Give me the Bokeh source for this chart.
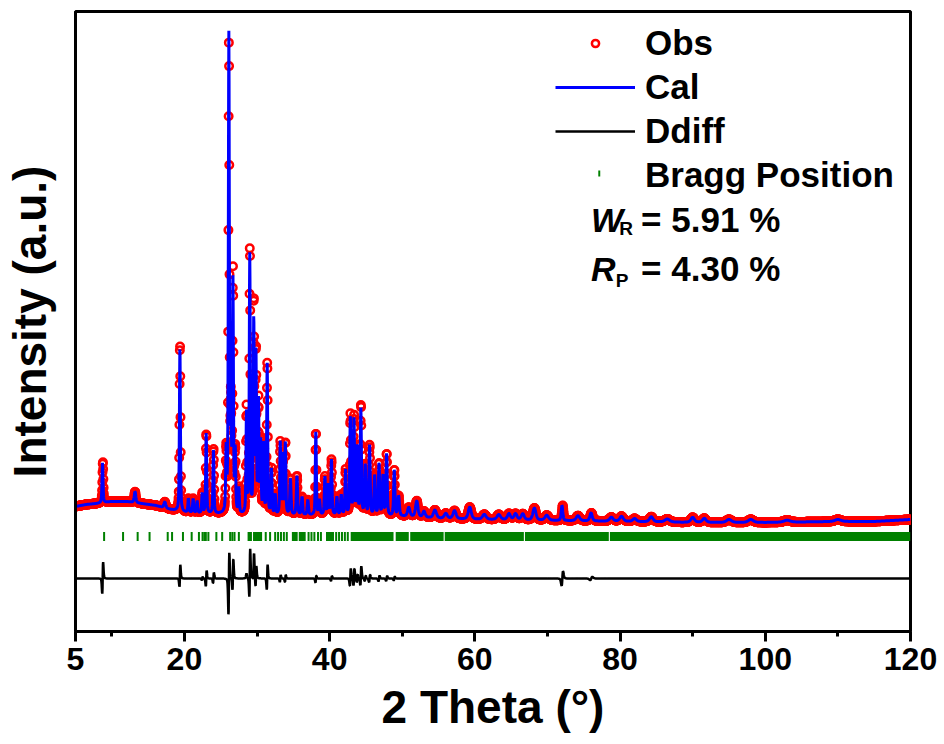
import numpy as np
from bokeh.plotting import figure
from bokeh.models import Range1d, FixedTicker, Legend, LegendItem, Label, BoxAnnotation
from bokeh.embed import file_html
from bokeh.resources import INLINE

# ------------------------------------------------------------------
# Data (intensities in arbitrary units)
# ------------------------------------------------------------------
two_theta_start = 5.0
two_theta_end = 120.0
two_theta_step = 0.03

# background (2theta, intensity)
bkg_pos = [5, 6.5, 8, 10, 12, 14, 16, 18, 20, 22, 25, 28, 32, 36, 40, 45, 50,
           55, 60, 70, 80, 90, 100, 110, 115, 120]
bkg_int = [125, 127, 128, 130, 130, 128, 126, 122, 119, 118, 117, 116, 116, 116,
           116, 115, 115, 113, 112, 111, 110, 109, 109, 110, 110, 112]

# reflections: position, calculated height, observed height, obs shift, fwhm
peak_pos = [8.72, 13.2, 17.3, 19.38, 20.55, 21.2, 21.75, 22.45, 23.0, 24.0,
            25.75, 26.12, 26.4, 26.68, 27.0, 27.5, 28.55, 29.0, 29.55, 29.85,
            30.2, 30.5, 30.9, 31.4, 32.0, 32.5, 33.2, 33.55, 33.9, 34.6,
            35.5, 36.2, 37.0, 38.1, 38.6, 39.35, 39.8, 40.25, 41.0, 41.6,
            42.2, 42.85, 43.35, 43.8, 44.3, 44.9, 45.5, 46.2, 46.8, 47.35,
            47.85, 48.9, 49.5, 50.9, 52.0, 53.0, 54.5, 56.0, 57.2, 59.3,
            61.3, 63.3, 64.7, 65.6, 66.6, 68.2, 69.9, 72.0, 74.2, 76.0,
            78.8, 80.2, 82.0, 84.3, 86.5, 90.0, 91.6, 95.0, 98.0, 103.0, 110.0]
calc_height = [40, 11, 6, 164, 14, 14, 12, 20, 80, 64,
               60, 476, 100, 232, 60, 25, 100, 258, 192, 158,
               110, 70, 70, 150, 45, 20, 72, 60, 72, 36,
               39, 18, 15, 84, 15, 38, 30, 55, 18, 20,
               45, 98, 96, 68, 106, 50, 70, 40, 52, 40,
               62, 46, 20, 9, 16, 6, 8, 5, 8, 12,
               5, 5, 6, 6, 6, 12, 5, 15, 5, 8,
               4, 5, 3, 5, 3, 5, 4, 3, 3, 2, 2]
obs_height = [41, 11, 6, 168, 14, 14, 12, 20, 80, 65,
              60, 468, 100, 238, 60, 25, 105, 266, 212, 160,
              110, 70, 70, 152, 45, 20, 72, 60, 72, 36,
              39, 18, 15, 83, 15, 38, 30, 55, 18, 20,
              45, 100, 98, 68, 110, 50, 70, 40, 52, 40,
              62, 46, 20, 9, 16, 6, 8, 5, 8, 12,
              5, 5, 6, 6, 6, 12, 5, 15, 5, 8,
              4, 5, 3, 5, 3, 5, 4, 3, 3, 2, 2]
obs_shift = [0.05, 0, 0, 0.008, 0, 0, 0, 0.01, 0.012, 0.01,
             0, 0.008, 0, 0.008, 0, 0, 0, 0.011, 0.006, 0.008,
             0, 0, 0, 0.01, 0, 0, 0.006, 0, 0.006, 0,
             0, 0, 0, 0.005, 0, 0, 0, 0.006, 0, 0,
             0, 0.012, 0.012, 0.008, 0.012, 0.008, 0.008, 0, 0.008, 0,
             0.006, 0.006, 0, 0, 0, 0, 0, 0, 0, 0,
             0, 0, 0, 0, 0, 0, 0, 0.1, 0, 0.06,
             0, 0, 0, 0, 0, 0, 0, 0, 0, 0, 0]
peak_fwhm = [0.16, 0.25, 0.3, 0.16, 0.16, 0.16, 0.16, 0.16, 0.16, 0.16,
             0.16, 0.16, 0.16, 0.16, 0.16, 0.16, 0.16, 0.16, 0.16, 0.16,
             0.16, 0.16, 0.16, 0.16, 0.16, 0.16, 0.16, 0.16, 0.16, 0.2,
             0.2, 0.2, 0.2, 0.16, 0.2, 0.18, 0.18, 0.18, 0.2, 0.2,
             0.18, 0.18, 0.18, 0.18, 0.18, 0.2, 0.2, 0.2, 0.2, 0.2,
             0.2, 0.2, 0.25, 0.4, 0.4, 0.4, 0.5, 0.5, 0.5, 0.5,
             0.6, 0.6, 0.5, 0.5, 0.5, 0.5, 0.6, 0.25, 0.6, 0.4,
             0.6, 0.6, 0.6, 0.6, 0.8, 0.6, 0.6, 0.8, 0.8, 1.0, 1.0]

# Bragg reflection positions: isolated ticks and dense (merged) bands
bragg_single = [8.94, 11.55, 13.56, 15.2, 17.7, 18.3, 19.8, 21.0, 22.0, 22.5,
                22.75, 22.95, 23.3, 24.4, 25.2, 26.3, 26.6, 26.9, 27.5, 31.2,
                31.8, 32.5, 32.9, 33.3, 33.7, 34.1, 37.1, 37.5, 37.9, 38.4,
                38.8, 40.9, 41.3, 41.7, 42.1, 42.5]
bragg_band_start = [28.7, 29.45, 34.8, 35.75, 39.5, 42.9, 49.1, 51.1, 55.85, 66.9, 78.6]
bragg_band_end = [29.3, 30.7, 35.6, 36.7, 40.6, 48.8, 50.9, 55.7, 66.75, 78.45, 120.0]

x_ticks = [5, 20, 40, 60, 80, 100, 120]
x_minor_ticks = [10, 30, 50, 70, 90, 110]

DIFF_OFFSET = 53      # vertical offset of the difference curve
BRAGG_LEVEL = 95      # vertical level of the Bragg tick row
BRAGG_HALF = 4.5

# ------------------------------------------------------------------
def pseudo_voigt(x, x0, h, w, eta=0.5):
    d = (x - x0) / w
    return h * (eta / (1.0 + 4.0 * d * d) + (1 - eta) * np.exp(-4.0 * np.log(2) * d * d))

tt = np.arange(two_theta_start, two_theta_end + two_theta_step / 2, two_theta_step)
bkg = np.interp(tt, bkg_pos, bkg_int)
calc = bkg.copy()
obs = bkg.copy()
for p0, hc, ho, s, w in zip(peak_pos, calc_height, obs_height, obs_shift, peak_fwhm):
    calc += pseudo_voigt(tt, p0, hc, w)
    obs += pseudo_voigt(tt, p0 + s, ho, w)
diff = obs - calc + DIFF_OFFSET

FONT = "Liberation Sans"

p = figure(width=944, height=744, x_range=Range1d(5, 120), y_range=Range1d(0, 620),
           output_backend="svg", toolbar_location=None,
           min_border_left=73, min_border_right=34, min_border_top=11, min_border_bottom=113)
p.xgrid.visible = False
p.ygrid.visible = False
p.outline_line_color = "black"
p.outline_line_width = 3
p.outline_line_alpha = 1
p.background_fill_color = "white"
p.border_fill_color = "white"

obs_r = p.scatter(tt, obs, marker="circle", size=7.5, fill_alpha=0,
                  line_color="#FF0000", line_width=2.5)
cal_r = p.line(tt, calc, line_color="#0000FF", line_width=3)
dif_r = p.line(tt, diff, line_color="black", line_width=2.5)
p.scatter(bragg_single, [BRAGG_LEVEL] * len(bragg_single), marker="dash",
          angle=np.pi / 2, size=9, line_color="#008000", line_width=2)
p.quad(left=bragg_band_start, right=bragg_band_end,
       bottom=BRAGG_LEVEL - BRAGG_HALF, top=BRAGG_LEVEL + BRAGG_HALF,
       fill_color="#008000", line_color=None)
# placeholder renderer for the legend entry (its symbol is drawn as a short vertical bar)
bragg_key = p.scatter([], [], marker="dash", line_alpha=0, fill_alpha=0)

# axes
xa = p.xaxis[0]
xa.ticker = FixedTicker(ticks=x_ticks, minor_ticks=x_minor_ticks)
xa.axis_line_width = 3
xa.major_tick_line_width = 3
xa.minor_tick_line_width = 3
xa.major_tick_in = 0
xa.major_tick_out = 10
xa.minor_tick_in = 0
xa.minor_tick_out = 5
xa.major_label_text_font = FONT
xa.major_label_text_font_style = "bold"
xa.major_label_text_font_size = "32px"
xa.major_label_text_color = "black"
xa.major_label_standoff = 6
xa.axis_label = "2 Theta (°)"
xa.axis_label_text_font = FONT
xa.axis_label_text_font_style = "bold"
xa.axis_label_text_font_size = "46px"
xa.axis_label_text_color = "black"
xa.axis_label_standoff = 8

ya = p.yaxis[0]
ya.ticker = FixedTicker(ticks=[], minor_ticks=[])
ya.axis_line_width = 3
ya.major_tick_out = 0
ya.major_tick_in = 0
ya.minor_tick_out = 0
ya.minor_tick_in = 0
ya.major_label_standoff = 0
ya.axis_label = "Intensity (a.u.)"
ya.axis_label_text_font = FONT
ya.axis_label_text_font_style = "bold"
ya.axis_label_text_font_size = "46px"
ya.axis_label_text_color = "black"
ya.axis_label_standoff = 20

legend = Legend(items=[LegendItem(label="Obs", renderers=[obs_r]),
                       LegendItem(label="Cal", renderers=[cal_r]),
                       LegendItem(label="Ddiff", renderers=[dif_r]),
                       LegendItem(label="Bragg Position", renderers=[bragg_key])],
                location=(480, 436), border_line_color=None, background_fill_alpha=0,
                label_text_font=FONT, label_text_font_style="bold",
                label_text_font_size="35px", label_text_color="black",
                glyph_width=80, glyph_height=18,
                label_standoff=10, spacing=4, padding=5, margin=0)
p.add_layout(legend)
# vertical key mark for "Bragg Position"
p.add_layout(BoxAnnotation(left=77.0, right=77.27, bottom=455, top=461,
                           fill_color="#008000", fill_alpha=1, line_color=None))

def txt(x, y, t, size, style="bold"):
    p.add_layout(Label(x=x, y=y, text=t, text_font=FONT, text_font_style=style,
                       text_font_size=size, text_baseline="alphabetic", text_color="black"))

txt(76.0, 412, "W", "34px", "bold italic")
txt(79.9, 403, "R", "19px")
txt(82.9, 412, "= 5.91 %", "35px")
txt(76.0, 363, "R", "34px", "bold italic")
txt(79.4, 351, "P", "19px")
txt(82.9, 363, "= 4.30 %", "35px")

open("out.html", "w").write(file_html(p, INLINE))
